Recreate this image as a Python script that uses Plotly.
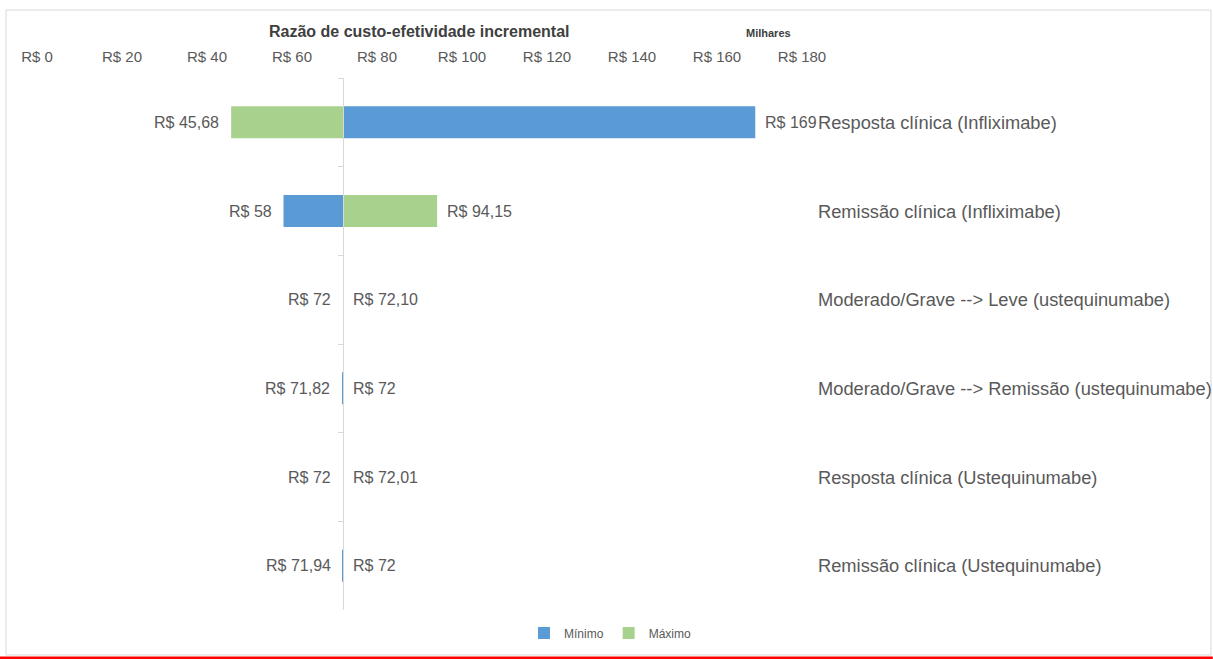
import plotly.graph_objects as go

categories = [
    "Resposta clínica (Infliximabe)",
    "Remissão clínica (Infliximabe)",
    "Moderado/Grave --> Leve (ustequinumabe)",
    "Moderado/Grave --> Remissão (ustequinumabe)",
    "Resposta clínica (Ustequinumabe)",
    "Remissão clínica (Ustequinumabe)",
]
minimo = [169, 58, 72, 71.82, 72, 71.94]
maximo = [45.68, 94.15, 72.10, 72, 72.01, 72]
base_value = 72
tick_values = [0, 20, 40, 60, 80, 100, 120, 140, 160, 180]
tick_labels = ["R$ " + str(v) for v in tick_values]

FONT = "Liberation Sans, Arial, sans-serif"
GRAY = "#595959"
BLUE = "#5B9BD5"
GREEN = "#A9D18E"


def fmt(v):
    if abs(v - round(v)) < 1e-9:
        return "R$ " + str(int(round(v)))
    return ("R$ %.2f" % v).replace(".", ",")


fig = go.Figure()
fig.add_trace(go.Bar(
    name="Mínimo", y=categories, x=[v - base_value for v in minimo], base=base_value,
    orientation="h", width=0.36, marker=dict(color=BLUE, line=dict(width=0)),
    hoverinfo="skip"))
fig.add_trace(go.Bar(
    name="Máximo", y=categories, x=[v - base_value for v in maximo], base=base_value,
    orientation="h", width=0.36, marker=dict(color=GREEN, line=dict(width=0)),
    hoverinfo="skip"))

annotations = []
for cat, a, b in zip(categories, minimo, maximo):
    lo, hi = (a, b) if a <= b else (b, a)
    annotations.append(dict(x=lo, y=cat, xref="x", yref="y", text=fmt(lo), showarrow=False,
                            xanchor="right", xshift=-10, font=dict(family=FONT, size=16, color=GRAY)))
    annotations.append(dict(x=hi, y=cat, xref="x", yref="y", text=fmt(hi), showarrow=False,
                            xanchor="left", xshift=8, font=dict(family=FONT, size=16, color=GRAY)))
    annotations.append(dict(x=1.018, y=cat, xref="paper", yref="y", text=cat, showarrow=False,
                            xanchor="left", font=dict(family=FONT, size=18.3, color=GRAY)))

annotations.append(dict(x=0.5, y=1.0865, xref="paper", yref="paper",
                        text="<b>Razão de custo-efetividade incremental</b>", showarrow=False,
                        xanchor="center", yanchor="middle", font=dict(family=FONT, size=16, color="#404040")))
annotations.append(dict(x=0.9556, y=1.0846, xref="paper", yref="paper",
                        text="<b>Milhares</b>", showarrow=False,
                        xanchor="center", yanchor="middle", font=dict(family=FONT, size=11, color="#404040")))

shapes = [
    dict(type="rect", xref="paper", yref="paper", x0=-0.0405, x1=1.5346, y0=-0.0846, y1=1.1278,
         line=dict(color="#d9d9d9", width=1), fillcolor="rgba(0,0,0,0)", layer="below"),
    dict(type="line", xref="paper", yref="paper", x0=-0.0484, x1=1.537, y0=-0.0902, y1=-0.0902,
         line=dict(color="#ff0000", width=3)),
]

fig.update_layout(
    width=1213, height=659,
    margin=dict(l=37, r=411, t=78, b=49),
    paper_bgcolor="white", plot_bgcolor="white",
    barmode="overlay",
    font=dict(family=FONT, color=GRAY),
    xaxis=dict(range=[0, 180], side="top", tickvals=tick_values, ticktext=tick_labels,
               showgrid=False, zeroline=False, showline=False, ticks="",
               tickfont=dict(family=FONT, size=15, color=GRAY), ticklabelstandoff=12,
               fixedrange=True),
    yaxis=dict(categoryorder="array", categoryarray=categories, autorange="reversed",
               anchor="free", position=base_value / 180.0, showline=True, linecolor="#d9d9d9",
               linewidth=1, ticks="outside", tickson="boundaries", ticklen=5, tickcolor="#d9d9d9",
               showticklabels=False, showgrid=False, zeroline=False, fixedrange=True,
               layer="above traces"),
    legend=dict(orientation="h", x=0.749, xanchor="center", y=-0.043, yanchor="middle",
                font=dict(family=FONT, size=12, color=GRAY), itemwidth=30, traceorder="normal"),
    annotations=annotations,
    shapes=shapes,
)

fig.write_html("out.html", config={"displayModeBar": False},
               post_script="document.body.style.margin='0';document.body.style.overflow='hidden';")
